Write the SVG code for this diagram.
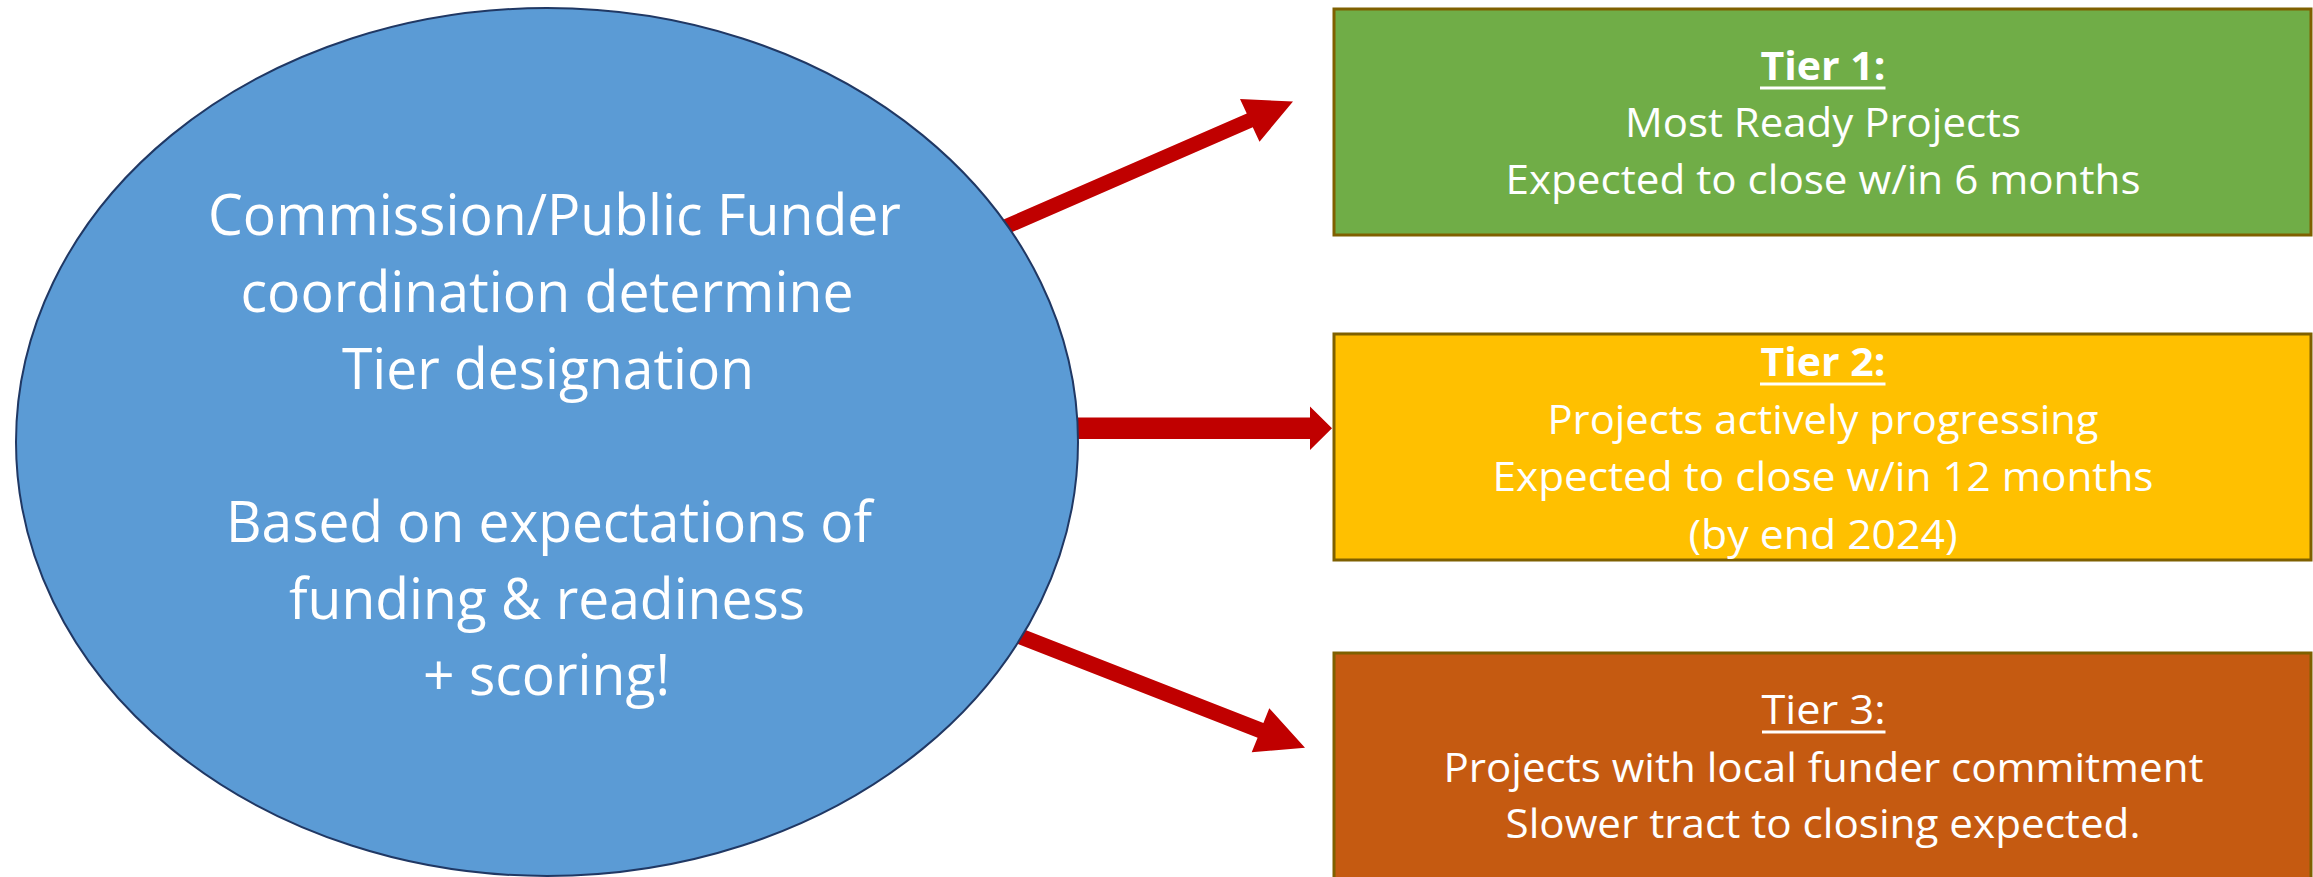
<svg xmlns="http://www.w3.org/2000/svg" width="2313" height="877" viewBox="0 0 2313 877">
  <style>
    .lbl { font-family: "Open Sans", "Liberation Sans", sans-serif; fill: #ffffff; text-anchor: middle; }
    .big { font-size: 56px; }
    .sm { font-size: 40px; }
    .bold { font-weight: bold; }
    .tier { stroke: #7f6000; stroke-width: 3; }
    .arrow { fill: #c00000; }
    .ul { stroke: #ffffff; stroke-width: 3; }
  </style>
  <rect width="2313" height="877" fill="#ffffff"/>

  <!-- connectors: drawn first so the ellipse outline sits on top of the shafts -->
  <g id="connectors">
    <polygon class="arrow" points="980.9,229.3 1246.75,113.5 1240,99 1293,101.5 1259.5,141.7 1252.75,127.2 986.9,243.1"/>
    <polygon class="arrow" points="1060,417.5 1310,417.5 1310,406.5 1332,428.3 1310,450 1310,439 1060,439"/>
    <polygon class="arrow" points="993.4,617.3 1263.4,722.9 1269.3,708.3 1305,747.7 1251.7,752.3 1257.6,737.8 987.6,632.2"/>
  </g>

  <!-- central decision ellipse -->
  <g id="commission">
    <ellipse cx="547" cy="442" rx="531" ry="434" fill="#5b9bd5" stroke="#203864" stroke-width="2"/>
    <text class="lbl big" x="554.5" y="235" textLength="693" lengthAdjust="spacingAndGlyphs">Commission/Public Funder</text>
    <text class="lbl big" x="547" y="312" textLength="613" lengthAdjust="spacingAndGlyphs">coordination determine</text>
    <text class="lbl big" x="548" y="389" textLength="412" lengthAdjust="spacingAndGlyphs">Tier designation</text>
    <text class="lbl big" x="549" y="542" textLength="646" lengthAdjust="spacingAndGlyphs">Based on expectations of</text>
    <text class="lbl big" x="547" y="619" textLength="516" lengthAdjust="spacingAndGlyphs">funding &amp; readiness</text>
    <text class="lbl big" x="546.5" y="695" textLength="247" lengthAdjust="spacingAndGlyphs">+ scoring!</text>
  </g>

  <!-- Tier 1 -->
  <g id="tier1">
    <rect class="tier" x="1334" y="9" width="977" height="226" fill="#70ad47"/>
    <text class="lbl sm bold" x="1823" y="80" textLength="125" lengthAdjust="spacingAndGlyphs">Tier 1:</text>
    <line class="ul" x1="1760" y1="88" x2="1885.5" y2="88"/>
    <text class="lbl sm" x="1823" y="137" textLength="396" lengthAdjust="spacingAndGlyphs">Most Ready Projects</text>
    <text class="lbl sm" x="1823" y="194" textLength="635" lengthAdjust="spacingAndGlyphs">Expected to close w/in 6 months</text>
  </g>

  <!-- Tier 2 -->
  <g id="tier2">
    <rect class="tier" x="1334" y="334" width="977" height="226" fill="#ffc000"/>
    <text class="lbl sm bold" x="1823" y="376" textLength="125" lengthAdjust="spacingAndGlyphs">Tier 2:</text>
    <line class="ul" x1="1760" y1="384" x2="1885.5" y2="384"/>
    <text class="lbl sm" x="1823" y="434" textLength="551" lengthAdjust="spacingAndGlyphs">Projects actively progressing</text>
    <text class="lbl sm" x="1823" y="491" textLength="661" lengthAdjust="spacingAndGlyphs">Expected to close w/in 12 months</text>
    <text class="lbl sm" x="1823" y="549" textLength="269" lengthAdjust="spacingAndGlyphs">(by end 2024)</text>
  </g>

  <!-- Tier 3 -->
  <g id="tier3">
    <rect class="tier" x="1334" y="653" width="977" height="240" fill="#c55a11"/>
    <text class="lbl sm" x="1823.5" y="724" textLength="124" lengthAdjust="spacingAndGlyphs">Tier 3:</text>
    <line class="ul" x1="1762" y1="732" x2="1885.5" y2="732"/>
    <text class="lbl sm" x="1823.5" y="782" textLength="760" lengthAdjust="spacingAndGlyphs">Projects with local funder commitment</text>
    <text class="lbl sm" x="1823" y="838" textLength="635" lengthAdjust="spacingAndGlyphs">Slower tract to closing expected.</text>
  </g>
</svg>
